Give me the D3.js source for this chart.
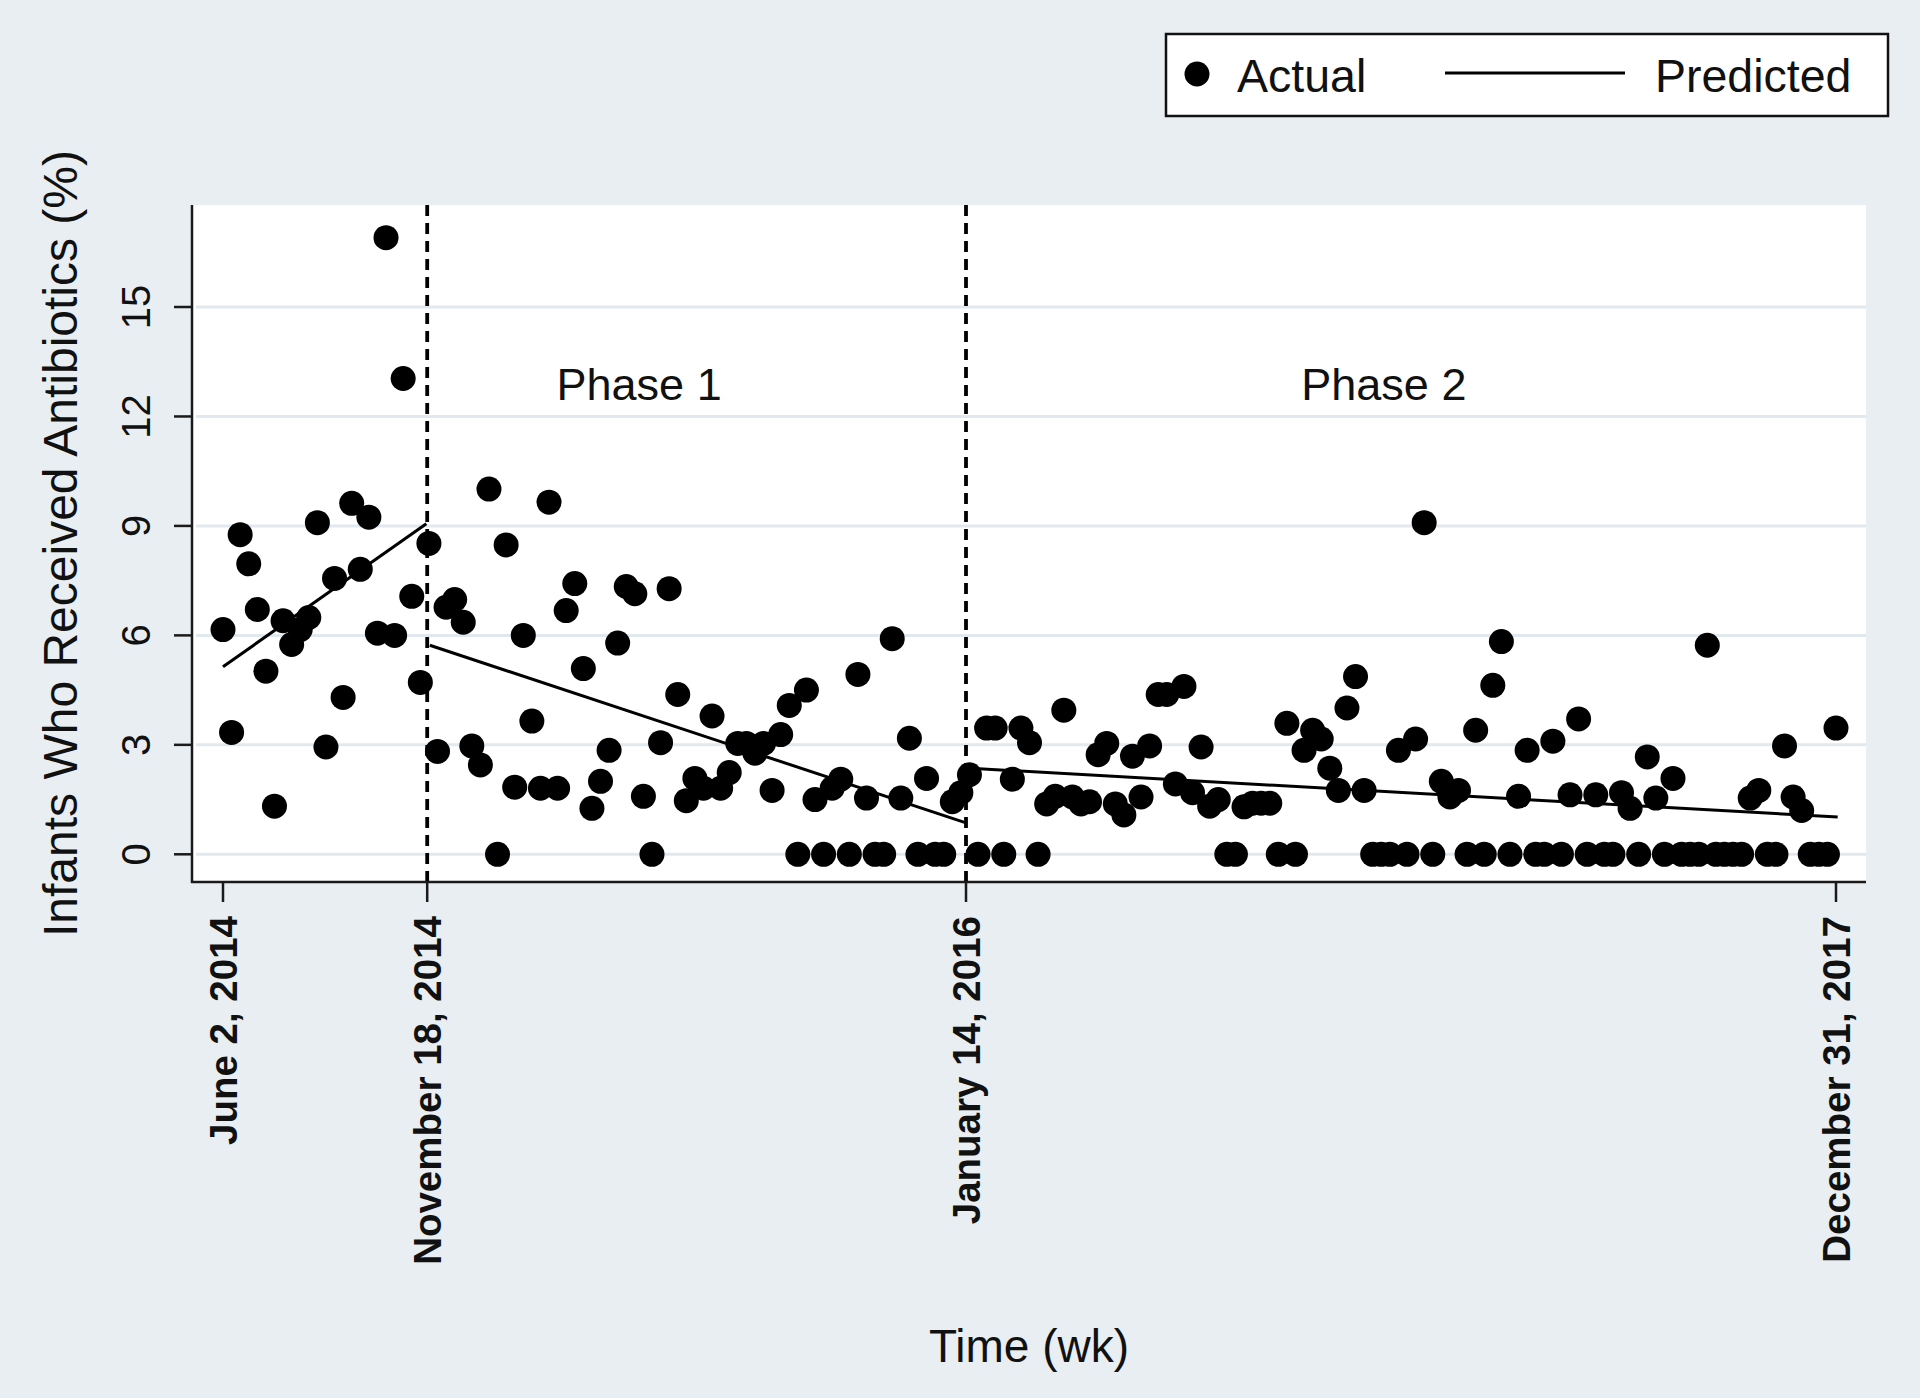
<!DOCTYPE html>
<html>
<head>
<meta charset="utf-8">
<script src="https://cdn.jsdelivr.net/npm/d3@7"></script>
<style>
  html, body { margin: 0; padding: 0; background: #e8eef2; }
  svg { display: block; }
  text { font-family: "Liberation Sans", Arial, Helvetica, sans-serif; fill: #111; }
</style>
</head>
<body>
<script>
// ---------------- DATA ----------------
// Weekly % of infants who received antibiotics; week index starts at 0 (June 2, 2014)
const baselineStartWeek = 0;
const baselinePct = [6.16, 3.34, 8.76, 7.96, 6.71, 5.02, 1.32, 6.40, 5.75, 6.16,
  6.49, 9.09, 2.94, 7.56, 4.30, 9.62, 7.81, 9.24, 6.06, 16.9, 6.0, 13.04, 7.07, 4.71, 8.52];

const phase1StartWeek = 25;
const phase1Pct = [2.82, 6.77, 6.98, 6.36, 2.97, 2.45, 10.01, 0, 8.48, 1.84,
  6.0, 3.65, 1.81, 9.65, 1.81, 6.68, 7.42, 5.09, 1.26, 2.0,
  2.85, 5.79, 7.34, 7.14, 1.59, 0, 3.06, 7.28, 4.38, 1.47,
  2.08, 1.81, 3.79, 1.81, 2.24, 3.04, 3.04, 2.77, 3.04, 1.75,
  3.28, 4.08, 0, 4.5, 1.5, 0, 1.81, 2.06, 0, 4.93,
  1.54, 0, 0, 5.91, 1.54, 3.18, 0, 2.08, 0, 0,
  1.44, 1.69, 2.18];

const phase2StartWeek = 88;
const phase2Pct = [0, 3.46, 3.46, 0, 2.06, 3.46, 3.06, 0, 1.38, 1.59,
  3.95, 1.57, 1.38, 1.44, 2.73, 3.04, 1.38, 1.08, 2.69, 1.57,
  2.97, 4.38, 4.38, 1.93, 4.6, 1.69, 2.94, 1.32, 1.5, 0,
  0, 1.3, 1.4, 1.4, 1.4, 0, 3.59, 0, 2.85, 3.4,
  3.16, 2.36, 1.75, 4.01, 4.87, 1.75, 0, 0, 0, 2.85,
  0, 3.16, 9.09, 0, 2.0, 1.57, 1.75, 0, 3.4, 0,
  4.63, 5.83, 0, 1.59, 2.85, 0, 0, 3.1, 0, 1.63,
  3.71, 0, 1.63, 0, 0, 1.69, 1.26, 0, 2.67, 1.54,
  0, 2.08, 0, 0, 0, 5.73, 0, 0, 0, 0,
  1.54, 1.75, 0, 0, 2.97, 1.57, 1.2, 0, 0, 0,
  3.46];

// Predicted (segmented regression) lines: endpoints per phase
const predBaselineWeeks = [0, 23.7];
const predBaselinePct   = [5.14, 9.06];
const predPhase1Weeks   = [24.1, 86.6];
const predPhase1Pct     = [5.73, 0.86];
const predPhase2Weeks   = [87.1, 188.2];
const predPhase2Pct     = [2.36, 1.02];

// Axes
const xTickWeeks  = [0, 23.8, 86.6, 188];
const xTickLabels = ["June 2, 2014", "November 18, 2014", "January 14, 2016", "December 31, 2017"];
const interventionWeeks = [23.8, 86.6];
const yTicks = [0, 3, 6, 9, 12, 15];

const phaseLabels     = ["Phase 1", "Phase 2"];
const phaseLabelWeeks = [48.5, 135.3];
const phaseLabelPct   = 12.45;

const legendLabels = ["Actual", "Predicted"];
const yTitle = "Infants Who Received Antibiotics (%)";
const xTitle = "Time (wk)";

// ---------------- DRAWING ----------------
const W = 1920, H = 1398;
const plot = { left: 192, right: 1866, top: 205, bottom: 882 };

const x = d3.scaleLinear().domain([0, 188]).range([223, 1836]);
const y = d3.scaleLinear().domain([0, 15]).range([854.3, 307]);

const svg = d3.select("body").append("svg")
  .attr("width", W).attr("height", H);

svg.append("rect").attr("width", W).attr("height", H).attr("fill", "#e8eef2");

// plot region
svg.append("rect")
  .attr("x", plot.left).attr("y", plot.top)
  .attr("width", plot.right - plot.left).attr("height", plot.bottom - plot.top)
  .attr("fill", "#ffffff");

// gridlines
svg.append("g").selectAll("line").data(yTicks).join("line")
  .attr("x1", plot.left + 4).attr("x2", plot.right)
  .attr("y1", d => y(d)).attr("y2", d => y(d))
  .attr("stroke", "#e1e9ee").attr("stroke-width", 3);

// intervention dashed lines
svg.append("g").selectAll("line").data(interventionWeeks).join("line")
  .attr("x1", d => x(d)).attr("x2", d => x(d))
  .attr("y1", plot.top).attr("y2", plot.bottom)
  .attr("stroke", "#000").attr("stroke-width", 3.8)
  .attr("stroke-dasharray", "11,7");

// axes lines
svg.append("line").attr("x1", plot.left).attr("x2", plot.left)
  .attr("y1", plot.top).attr("y2", plot.bottom + 1)
  .attr("stroke", "#1a1a1a").attr("stroke-width", 2.5);
svg.append("line").attr("x1", plot.left - 1).attr("x2", plot.right)
  .attr("y1", plot.bottom).attr("y2", plot.bottom)
  .attr("stroke", "#1a1a1a").attr("stroke-width", 2.5);

// y ticks & labels
const yAx = svg.append("g");
yAx.selectAll("line").data(yTicks).join("line")
  .attr("x1", plot.left - 18).attr("x2", plot.left)
  .attr("y1", d => y(d)).attr("y2", d => y(d))
  .attr("stroke", "#1a1a1a").attr("stroke-width", 2.5);
yAx.selectAll("text").data(yTicks).join("text")
  .attr("transform", d => `translate(136,${y(d)}) rotate(-90)`)
  .attr("text-anchor", "middle").attr("dy", "0.36em")
  .attr("font-size", 40)
  .text(d => d);

// x ticks & labels
const xAx = svg.append("g");
xAx.selectAll("line").data(xTickWeeks).join("line")
  .attr("x1", d => x(d)).attr("x2", d => x(d))
  .attr("y1", plot.bottom).attr("y2", plot.bottom + 20)
  .attr("stroke", "#1a1a1a").attr("stroke-width", 2.5);
xAx.selectAll("text").data(xTickWeeks).join("text")
  .attr("transform", d => `translate(${x(d)},916) rotate(-90)`)
  .attr("text-anchor", "end").attr("dy", "0.36em")
  .attr("font-size", 38.5).attr("font-weight", "bold")
  .text((d, i) => xTickLabels[i]);

// axis titles
svg.append("text")
  .attr("transform", `translate(60,${(plot.top + plot.bottom) / 2}) rotate(-90)`)
  .attr("text-anchor", "middle").attr("dy", "0.36em")
  .attr("font-size", 48).text(yTitle);
svg.append("text")
  .attr("x", (plot.left + plot.right) / 2).attr("y", 1362)
  .attr("text-anchor", "middle").attr("font-size", 46).text(xTitle);

// phase labels
svg.append("g").selectAll("text").data(phaseLabels).join("text")
  .attr("x", (d, i) => x(phaseLabelWeeks[i]))
  .attr("y", y(phaseLabelPct))
  .attr("text-anchor", "middle").attr("font-size", 45)
  .text(d => d);

// predicted lines
const lineGen = d3.line().x(d => x(d[0])).y(d => y(d[1]));
const predSegments = [
  d3.zip(predBaselineWeeks, predBaselinePct),
  d3.zip(predPhase1Weeks, predPhase1Pct),
  d3.zip(predPhase2Weeks, predPhase2Pct)
];
svg.append("g").selectAll("path").data(predSegments).join("path")
  .attr("d", lineGen).attr("fill", "none")
  .attr("stroke", "#000").attr("stroke-width", 3);

// actual points
const actual = []
  .concat(baselinePct.map((v, i) => ({ week: baselineStartWeek + i, pct: v })))
  .concat(phase1Pct.map((v, i) => ({ week: phase1StartWeek + i, pct: v })))
  .concat(phase2Pct.map((v, i) => ({ week: phase2StartWeek + i, pct: v })));

svg.append("g").selectAll("circle").data(actual).join("circle")
  .attr("cx", d => x(d.week)).attr("cy", d => y(d.pct))
  .attr("r", 12.5).attr("fill", "#000");

// legend
const lg = svg.append("g");
lg.append("rect").attr("x", 1166).attr("y", 34).attr("width", 722).attr("height", 82)
  .attr("fill", "#fff").attr("stroke", "#111").attr("stroke-width", 2.5);
lg.append("circle").attr("cx", 1197).attr("cy", 74).attr("r", 12.5).attr("fill", "#000");
lg.append("text").attr("x", 1237).attr("y", 92).attr("font-size", 46.5).text(legendLabels[0]);
lg.append("line").attr("x1", 1445).attr("x2", 1625).attr("y1", 73).attr("y2", 73)
  .attr("stroke", "#000").attr("stroke-width", 3);
lg.append("text").attr("x", 1655).attr("y", 92).attr("font-size", 46.5).text(legendLabels[1]);
</script>
</body>
</html>
